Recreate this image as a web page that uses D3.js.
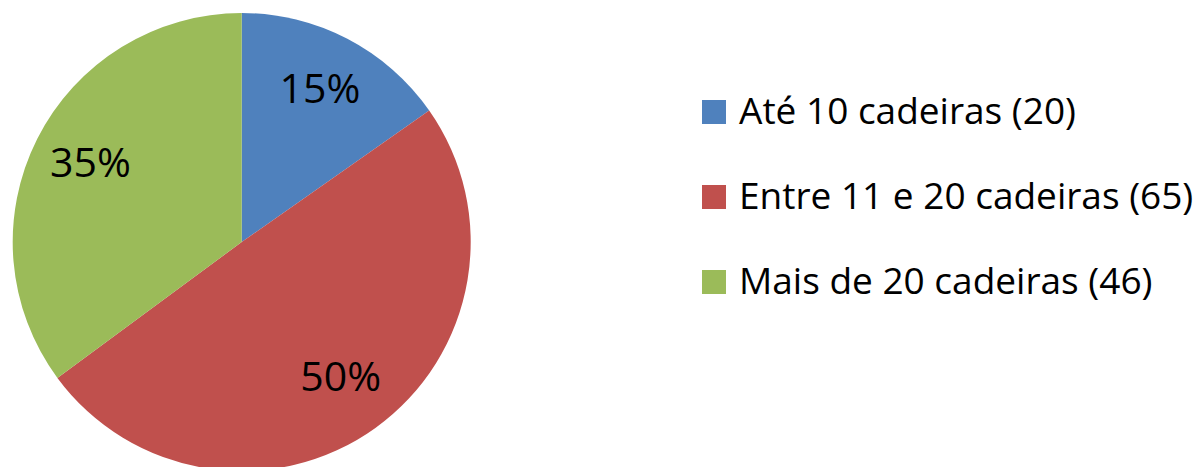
<!DOCTYPE html>
<html><head><meta charset="utf-8">
<script src="https://cdn.jsdelivr.net/npm/d3@7"></script>
<style>html,body{margin:0;padding:0;background:#fff;overflow:hidden}</style>
</head><body>
<svg id="c" width="1198" height="467"></svg>
<script>
const categories = ["Até 10 cadeiras (20)", "Entre 11 e 20 cadeiras (65)", "Mais de 20 cadeiras (46)"];
const values = [20, 65, 46];
const colors = ["#4F81BD", "#C0504D", "#9BBB59"];

const svg = d3.select("#c");
const cx = 241.7, cy = 242, r = 229;
const g = svg.append("g").attr("transform", `translate(${cx},${cy})`);
const pie = d3.pie().sort(null).value(d => d);
const arcs = pie(values);
const total = d3.sum(values);
const arc = d3.arc().innerRadius(0).outerRadius(r);
const labelArc = d3.arc().innerRadius(r * 0.74).outerRadius(r * 0.74);

g.selectAll("path").data(arcs).join("path")
  .attr("d", arc).attr("fill", (d, i) => colors[i]);

const fmt = d3.format(".0%");
g.selectAll("text").data(arcs).join("text")
  .attr("transform", d => `translate(${labelArc.centroid(d)})`)
  .attr("text-anchor", "middle").attr("dy", "0.27em")
  .attr("font-family", "'Open Sans', sans-serif").attr("font-size", 41)
  .attr("fill", "#000")
  .text(d => fmt(d.value / total));

const leg = svg.append("g");
const rowY = d3.scalePoint().domain(categories).range([124, 294]);
const items = leg.selectAll("g").data(categories).join("g")
  .attr("transform", d => `translate(702,${rowY(d)})`);
items.append("rect").attr("x", 0).attr("y", -24).attr("width", 24).attr("height", 24)
  .attr("fill", (d, i) => colors[i]);
items.append("text").attr("x", 37).attr("y", 0)
  .attr("font-family", "'Open Sans', sans-serif").attr("font-size", 37)
  .attr("fill", "#000").text(d => d);
</script>
</body></html>
